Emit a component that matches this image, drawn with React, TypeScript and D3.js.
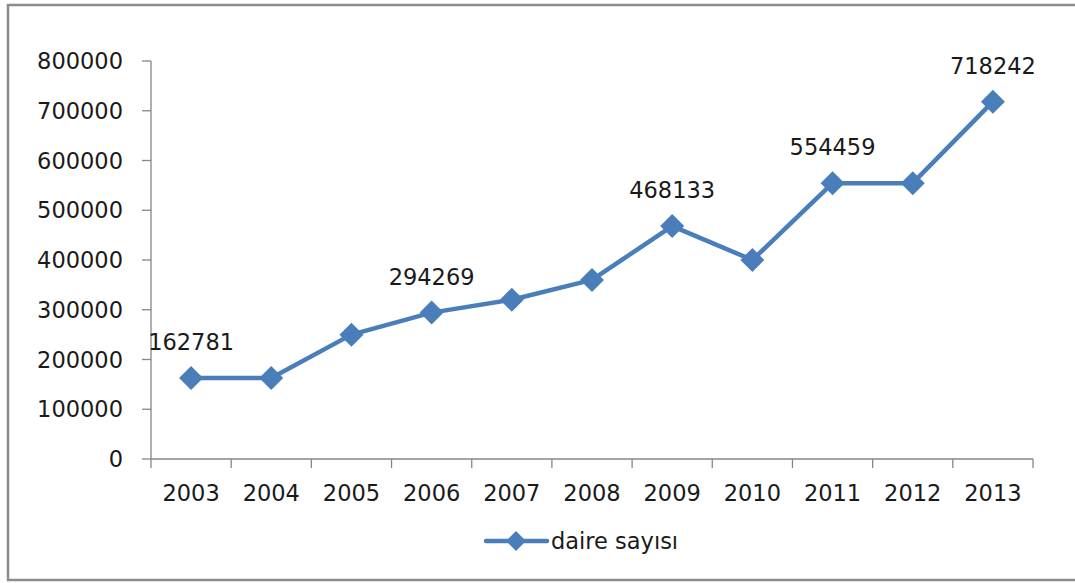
import React from "react";
import * as d3 from "d3";

const years = ["2003", "2004", "2005", "2006", "2007", "2008", "2009", "2010", "2011", "2012", "2013"];
const values = [162781, 162781, 250000, 294269, 320000, 360000, 468133, 400000, 554459, 554459, 718242];
const labeled = [162781, null, null, 294269, null, null, 468133, null, 554459, null, 718242];
const yTicks = [0, 100000, 200000, 300000, 400000, 500000, 600000, 700000, 800000];
const seriesName = "daire sayısı";

const W = 1075, H = 583;
const left = 151, right = 1033, top = 61, bottom = 459;
const color = "#4A7EBB";
const axisColor = "#868686";
const font = "'DejaVu Sans', sans-serif";
const fs = 22.5;

export default function App() {
  const x = d3.scaleBand<string>().domain(years).range([left, right]);
  const y = d3.scaleLinear().domain([0, 800000]).range([bottom, top]);
  const cx = (i: number) => (x(years[i]) as number) + x.bandwidth() / 2;
  const line = d3.line<number>().x((_, i) => cx(i)).y((d) => y(d));
  const diamond = (px: number, py: number, r: number) =>
    `M${px},${py - r}L${px + r},${py}L${px},${py + r}L${px - r},${py}Z`;
  const bands = [...years.map((yy) => x(yy) as number), right];

  return (
    <svg width={W} height={H} style={{ position: "absolute", left: 0, top: 0, background: "#fff" }}>
      <path d={`M1075,5 H8 V580 H1075`} fill="none" stroke="#8c8c8c" strokeWidth={2.5} />
      {/* y axis */}
      <line x1={left} x2={left} y1={top} y2={bottom} stroke={axisColor} strokeWidth={1.3} />
      {yTicks.map((t) => (
        <g key={t}>
          <line x1={left - 9} x2={left} y1={y(t)} y2={y(t)} stroke={axisColor} strokeWidth={1.3} />
          <text x={123} y={y(t)} dy="0.36em" textAnchor="end" fontFamily={font} fontSize={fs} fill="#1a1a1a">
            {t}
          </text>
        </g>
      ))}
      {/* x axis */}
      <line x1={left} x2={right} y1={bottom} y2={bottom} stroke={axisColor} strokeWidth={1.3} />
      {bands.map((b, i) => (
        <line key={i} x1={b} x2={b} y1={bottom} y2={bottom + 9} stroke={axisColor} strokeWidth={1.3} />
      ))}
      {years.map((yy, i) => (
        <text key={yy} x={cx(i)} y={493} dy="0.36em" textAnchor="middle" fontFamily={font} fontSize={fs} fill="#1a1a1a">
          {yy}
        </text>
      ))}
      {/* series */}
      <path d={line(values) || ""} fill="none" stroke={color} strokeWidth={4.5} strokeLinejoin="round" />
      {values.map((v, i) => (
        <path key={i} d={diamond(cx(i), y(v), 12)} fill={color} />
      ))}
      {labeled.map((v, i) =>
        v == null ? null : (
          <text key={i} x={cx(i)} y={y(v) - 36} dy="0.36em" textAnchor="middle" fontFamily={font} fontSize={fs} fill="#1a1a1a">
            {v}
          </text>
        )
      )}
      {/* legend */}
      <line x1={486} x2={547} y1={541} y2={541} stroke={color} strokeWidth={4.5} strokeLinecap="round" />
      <path d={diamond(516, 541, 10)} fill={color} />
      <text x={551} y={541} dy="0.36em" fontFamily={font} fontSize={fs} fill="#1a1a1a">
        {seriesName}
      </text>
    </svg>
  );
}
